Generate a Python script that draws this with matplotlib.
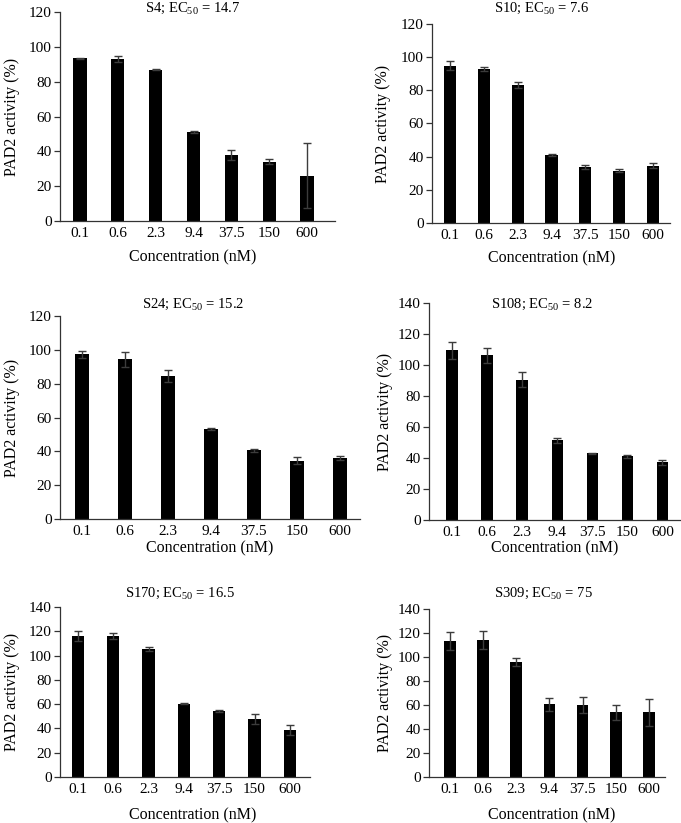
import numpy as np
import matplotlib
matplotlib.use('Agg')
import matplotlib.pyplot as plt

plt.rcParams['font.family'] = ['Liberation Serif', 'DejaVu Serif']
plt.rcParams['mathtext.fontset'] = 'custom'
plt.rcParams['mathtext.rm'] = 'Liberation Serif'
plt.rcParams['mathtext.it'] = 'Liberation Serif:italic'

conc = ['0.1', '0.6', '2.3', '9.4', '37.5', '150', '600']

names = ['S4', 'S10', 'S24', 'S108', 'S170', 'S309']
ec50 = ['14.7', '7.6', '15.2', '8.2', '16.5', '75']

s4 = [93.5, 92.9, 86.8, 51.0, 38.0, 34.1, 26.0]
s4_err = [0.3, 1.6, 0.3, 0.4, 3.0, 1.5, 18.6]
s10 = [94.8, 92.7, 83.3, 41.0, 34.0, 31.5, 34.5]
s10_err = [2.6, 1.3, 1.7, 0.5, 1.2, 1.0, 1.5]
s24 = [97.4, 94.3, 84.6, 53.1, 40.5, 34.5, 36.0]
s24_err = [2.2, 4.3, 3.4, 0.4, 1.0, 2.0, 1.0]
s108 = [109.5, 106.3, 90.6, 51.3, 43.0, 41.0, 37.1]
s108_err = [5.4, 4.7, 5.0, 1.5, 0.5, 0.9, 1.3]
s170 = [115.8, 116.4, 105.7, 60.4, 54.6, 47.8, 38.7]
s170_err = [4.2, 2.6, 1.6, 0.3, 0.8, 4.1, 3.8]
s309 = [113.4, 114.0, 95.9, 60.7, 59.9, 53.8, 53.8]
s309_err = [7.5, 7.7, 3.1, 5.3, 6.4, 6.1, 11.1]

values = [s4, s10, s24, s108, s170, s309]
errors = [s4_err, s10_err, s24_err, s108_err, s170_err, s309_err]
ymax = [120, 120, 120, 140, 140, 140]

W, H = 681, 823
fig = plt.figure(figsize=(W / 100, H / 100), dpi=100)

# axes boxes in pixels: left, right, top, bottom
boxes = [(60, 335, 12, 221), (432, 670, 24, 223),
         (60, 360, 316, 519), (429, 680, 303, 520),
         (60, 310, 607, 777), (429, 665, 609, 777)]
# x limits (bar index units)
xlims = [(-0.53, 6.74), (-0.53, 6.5), (-0.51, 6.47),
         (-0.66, 6.5), (-0.51, 6.57), (-0.63, 6.48)]
bar_w = [0.35, 0.36, 0.33, 0.33, 0.35, 0.35]
title_pos = [(193, 8), (542, 8), (193, 304), (542, 304), (180, 593), (543, 593)]
ylab_x = [12, 383, 12, 385, 12, 385]
xlab_pos = [(193, 257), (552, 258), (210, 548), (555, 548), (193, 815), (552, 815)]

x = np.arange(len(conc))
for i in range(6):
    l, r, t, b = boxes[i]
    ax = fig.add_axes([l / W, 1 - b / H, (r - l) / W, (b - t) / H])
    ax.bar(x, values[i], width=bar_w[i], color='black', zorder=2)
    ax.errorbar(x, values[i], yerr=errors[i], fmt='none', ecolor='#3c3c3c',
                elinewidth=1, capsize=3, capthick=1, zorder=3)
    ax.set_xlim(*xlims[i])
    ax.set_ylim(0, ymax[i])
    ax.set_yticks(np.arange(0, ymax[i] + 1, 20))
    ax.set_xticks(x)
    ax.set_xticklabels(conc)
    for s in ['top', 'right']:
        ax.spines[s].set_visible(False)
    for s in ['left', 'bottom']:
        ax.spines[s].set_linewidth(0.9)
        ax.spines[s].set_color('#333333')
    ax.tick_params(axis='y', length=4, width=0.9, color='#333333', labelsize=11, pad=2)
    ax.tick_params(axis='x', length=0, labelsize=11, pad=4)
    ax.set_ylabel('PAD2 activity (%)', fontsize=11.5)
    ax.yaxis.set_label_coords(ylab_x[i] / W, 1 - ((t + b) / 2) / H, transform=fig.transFigure)
    ax.set_xlabel('Concentration (nM)', fontsize=11.5)
    ax.xaxis.set_label_coords(xlab_pos[i][0] / W, 1 - xlab_pos[i][1] / H, transform=fig.transFigure)
    ax.xaxis.label.set_verticalalignment('center')
    ax.yaxis.label.set_verticalalignment('center')
    fig.text(title_pos[i][0] / W, 1 - title_pos[i][1] / H,
             names[i] + '; EC$_{\\mathrm{50}}$ = ' + ec50[i],
             ha='center', va='center', fontsize=10.5)

fig.savefig('out.png', dpi=100)
